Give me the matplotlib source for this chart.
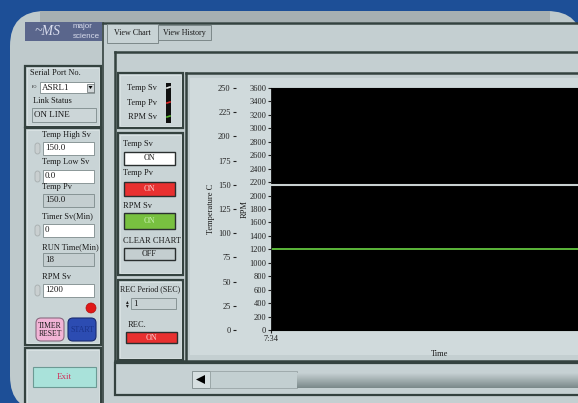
import numpy as np
import matplotlib
matplotlib.use("Agg")
import matplotlib.pyplot as plt
from matplotlib.patches import Rectangle, FancyBboxPatch, Circle, Polygon

# ---------------------------------------------------------------
# chart data (time in seconds after 7:34)
# ---------------------------------------------------------------
time_s = [0, 30, 60, 90, 120, 150]
temp_sv = [150, 150, 150, 150, 150, 150]
temp_pv = [150, 150, 150, 150, 150, 150]
rpm_sv = [1200, 1200, 1200, 1200, 1200, 1200]

temp_ticks = [0, 25, 50, 75, 100, 125, 150, 175, 200, 225, 250]
rpm_ticks = [0, 200, 400, 600, 800, 1000, 1200, 1400, 1600, 1800, 2000,
             2200, 2400, 2600, 2800, 3000, 3200, 3400, 3600]
time_ticks = [0]
time_labels = ['7:34']

# ---------------------------------------------------------------
# front panel values
# ---------------------------------------------------------------
serial_port = 'ASRL1'
link_status = 'ON LINE'
param_labels = ['Temp High Sv', 'Temp Low Sv', 'Temp Pv', 'Timer Sv(Min)', 'RUN Time(Min)', 'RPM Sv']
param_values = ['150.0', '0.0', '150.0', '0', '18', '1200']
param_editable = [True, True, False, True, False, True]
legend_names = ['Temp Sv', 'Temp Pv', 'RPM Sv']
legend_colors = ['#e8ecec', '#e02828', '#58b830']
toggle_labels = ['Temp Sv', 'Temp Pv', 'RPM Sv', 'CLEAR CHART']
toggle_states = ['ON', 'ON', 'ON', 'OFF']
rec_period = '1'
rec_state = 'ON'

W, H = 578, 403
BLUE = '#1d4f97'
PANEL = '#bfcacc'
LIGHT = '#c9d4d6'
DARK = '#34423f'
SERIF = 'Liberation Serif'

fig = plt.figure(figsize=(W / 100, H / 100), dpi=100, facecolor=BLUE)
bg = fig.add_axes([0, 0, 1, 1])
bg.set_xlim(0, W)
bg.set_ylim(H, 0)
bg.axis('off')


def rect(x, y, w, h, fc='none', ec='none', lw=0.0, z=1):
    bg.add_patch(Rectangle((x, y), w, h, facecolor=fc, edgecolor=ec, linewidth=lw, zorder=z))


def frame(x, y, w, h, fc=LIGHT):
    rect(x, y, w, h, fc=fc, ec=DARK, lw=1.6, z=2)
    rect(x + 2, y + 2, w - 4, h - 4, fc='none', ec='#dfe7e8', lw=0.5, z=2)


def txt(x, y, s, size=6, ha='left', color='#1a1a1a', **kw):
    bg.text(x, y, s, fontsize=size, ha=ha, va='center', color=color,
            family=kw.pop('family', SERIF), zorder=5, **kw)


def field(x, y, w, h, value, fc='white'):
    rect(x, y, w, h, fc=fc, ec='#7d8a8b', lw=0.6, z=3)
    txt(x + 2, y + h / 2, value, size=6.5)


def button(x, y, w, h, label, fc, tc='#1a1a1a'):
    rect(x, y, w, h, fc=fc, ec='#2a2f2f', lw=1.0, z=3)
    txt(x + w / 2, y + h / 2, label, size=5.8, ha='center', color=tc)


# panel body with rounded corners
bg.add_patch(FancyBboxPatch((10, 11), 572, 400, boxstyle='round,pad=0,rounding_size=35',
                            facecolor=PANEL, edgecolor='none', zorder=0.5))
rect(40, 11, 510, 11, fc='#a7b0b2', z=0.6)
rect(103, 23, 480, 380, fc='#c4cfd1', z=0.7)

# tab control lines
bg.plot([103, 578], [23, 23], color=DARK, lw=1.8, zorder=2)
bg.plot([103, 103], [23, 403], color=DARK, lw=1.2, zorder=2)
rect(107, 24, 51, 19, fc='#c8d3d5', ec='#7c8889', lw=0.7, z=2)
rect(158, 25, 53, 15, fc='#bcc7c9', ec='#7c8889', lw=0.7, z=2)
txt(132, 33, 'View Chart', size=5.8, ha='center')
txt(184, 33, 'View History', size=5.8, ha='center')
bg.plot([115, 578], [52, 52], color=DARK, lw=1.8, zorder=2)
bg.plot([115, 115], [52, 361], color=DARK, lw=1.8, zorder=2)
bg.plot([186, 578], [73, 73], color=DARK, lw=1.8, zorder=2)
bg.plot([186, 186], [73, 361], color=DARK, lw=1.8, zorder=2)
bg.plot([115, 578], [361, 361], color=DARK, lw=1.8, zorder=2)
rect(190, 78, 400, 277, fc='#d0dadc', z=1.5)

# logo
rect(25, 22, 77, 19, fc='#5a668c', z=2)
txt(47, 31.5, '~MS', size=10, ha='center', color='#d8dcec', style='italic')
txt(82, 27, 'major', size=5.8, ha='center', color='#d8dcec', family='Liberation Sans')
txt(86, 36, 'science', size=5.8, ha='center', color='#d8dcec', family='Liberation Sans')

# serial port box
frame(25, 66, 76, 61, fc=LIGHT)
txt(30, 73, 'Serial Port No.', size=6)
field(40, 82, 54, 11, serial_port)
txt(35, 87, 'I/O', size=3, ha='center')
rect(87, 83.5, 7, 8, fc='#d0d6d8', ec='#606a6b', lw=0.5, z=4)
bg.add_patch(Polygon([[88.5, 86], [92.5, 86], [90.5, 89]], closed=True, fc='black', zorder=5))
txt(33, 101, 'Link Status', size=6)
field(32, 108, 64, 14, link_status, fc='#ccd6d8')

# parameter box
frame(25, 128, 76, 217, fc=LIGHT)
label_y = [135, 162, 187, 216, 247, 277]
field_y = [142, 170, 194, 224, 253, 284]
for lab, val, edit, ly, fy in zip(param_labels, param_values, param_editable, label_y, field_y):
    txt(42, ly, lab, size=6)
    if edit:
        field(43, fy, 51, 13, val, fc='white')
        bg.add_patch(FancyBboxPatch((35, fy + 1), 5, 11, boxstyle='round,pad=0,rounding_size=2.5',
                                    fc='#c9cfd0', ec='#a0a8a9', lw=0.5, zorder=3))
    else:
        field(43, fy, 51, 13, val, fc='#c4ced0')
bg.add_patch(Circle((91, 308), 5, fc='#e01818', ec='#b01010', lw=0.5, zorder=3))
bg.add_patch(FancyBboxPatch((36, 318), 28, 23, boxstyle='round,pad=0,rounding_size=5',
                            fc='#f2b4d6', ec='#8a6a80', lw=0.8, zorder=3))
txt(50, 329.5, 'TIMER\nRESET', size=5.5, ha='center', linespacing=1.0)
bg.add_patch(FancyBboxPatch((68, 318), 28, 23, boxstyle='round,pad=0,rounding_size=5',
                            fc='#2c4cb2', ec='#1a2a70', lw=0.8, zorder=3))
txt(82, 329.5, 'START', size=5.8, ha='center', color='#1a338a')

# exit box
frame(25, 348, 76, 60, fc=LIGHT)
rect(33, 367, 63, 20, fc='#a9e2da', ec='#6c9a94', lw=0.8, z=3)
txt(64.5, 377, 'Exit', size=6.5, ha='center', color='#d0305a')

# legend box
frame(118, 73, 65, 55, fc=LIGHT)
rect(121, 76, 59, 49, fc='#ccd6d8', z=2.5)
rect(166, 83, 5, 40, fc='#101010', z=3)
for name, col, ly in zip(legend_names, legend_colors, [88, 103, 117]):
    txt(157, ly, name, size=6, ha='right')
    bg.plot([167, 170], [ly, ly - 1], color=col, lw=1.2, zorder=4)

# toggle box
frame(118, 133, 65, 142, fc=LIGHT)
toggle_fc = ['white', '#e83030', '#78c040', '#c4ced0']
toggle_tc = ['#1a1a1a', '#f8d0d0', '#c8f0b0', '#1a1a1a']
for lab, state, fc, tc, ly, by, bh in zip(toggle_labels, toggle_states, toggle_fc, toggle_tc,
                                          [144, 173, 206, 241], [152, 182, 213, 248], [13, 14, 16, 12]):
    txt(123, ly, lab, size=6)
    button(124, by, 51, bh, state, fc, tc)

# rec box
frame(118, 280, 65, 80, fc=LIGHT)
txt(120.5, 289, 'REC Period (SEC)', size=5.8)
field(131, 298, 45, 11, rec_period, fc='#c8d2d4')
txt(127, 303.5, '\u25b4\n\u25be', size=4, ha='center', linespacing=0.8, family='DejaVu Sans')
txt(128, 325, 'REC.', size=6)
button(126, 332, 51, 11, rec_state, '#e83030', '#f8d0d0')

# scrollbar strip
rect(115, 363, 470, 32, fc='#c6d1d3', ec=DARK, lw=1.6, z=2)
rect(192, 371, 18, 17, fc='#d6dfe0', ec='#7d8a8b', lw=0.6, z=3)
bg.add_patch(Polygon([[196, 379.5], [205, 375], [205, 384]], closed=True, fc='black', zorder=4))
rect(210, 371, 87, 17, fc='#c3cfd1', ec='#9aa5a6', lw=0.6, z=3)
grad = np.linspace(0, 1, 20).reshape(-1, 1)
bg.imshow(grad, extent=(297, 580, 388, 373), cmap=matplotlib.colors.LinearSegmentedColormap.from_list(
    'trough', ['#c4cfd1', '#7c8a8b']), aspect='auto', zorder=3)
bg.set_xlim(0, W)
bg.set_ylim(H, 0)

# ---------------------------------------------------------------
# the chart itself
# ---------------------------------------------------------------
ax = fig.add_axes([271 / W, 1 - 330 / H, (609 - 271) / W, (330 - 88) / H])
ax.set_facecolor('black')
ax.set_xlim(0, 150)
ax.set_ylim(0, 3600)
ax.set_yticks(rpm_ticks)
ax.set_xticks(time_ticks)
ax.set_xticklabels(time_labels)
ax.tick_params(axis='both', labelsize=6, length=2.5, width=0.8, pad=1, colors='#222222')
for lab in ax.get_xticklabels() + ax.get_yticklabels():
    lab.set_family(SERIF)
ax.set_ylabel('RPM', fontsize=6, family=SERIF, labelpad=0.5, color='#1a1a1a')
ax.set_xlabel('Time', fontsize=6, family=SERIF, labelpad=5, color='#1a1a1a')
for sp in ax.spines.values():
    sp.set_color('#222222')
    sp.set_linewidth(0.6)

ax2 = ax.twinx()
ax2.set_ylim(0, 250)
ax2.set_yticks(temp_ticks)
ax2.yaxis.tick_left()
ax2.yaxis.set_label_position('left')
ax2.spines['left'].set_position(('outward', 25))
ax2.spines['left'].set_visible(False)
ax2.spines['right'].set_visible(False)
ax2.tick_params(axis='y', labelsize=6, length=2.5, width=0.8, pad=1.5, colors='#222222')
for lab in ax2.get_yticklabels():
    lab.set_family(SERIF)
ax2.set_ylabel('Temperature C', fontsize=6, family=SERIF, labelpad=2, color='#1a1a1a')

ax2.plot(time_s, temp_pv, color='#e02828', lw=1.2)
ax2.plot(time_s, temp_sv, color='#c8d0d0', lw=1.5)
ax.plot(time_s, rpm_sv, color='#5cb83a', lw=1.4)

fig.savefig('out.png', dpi=100, facecolor=BLUE)
